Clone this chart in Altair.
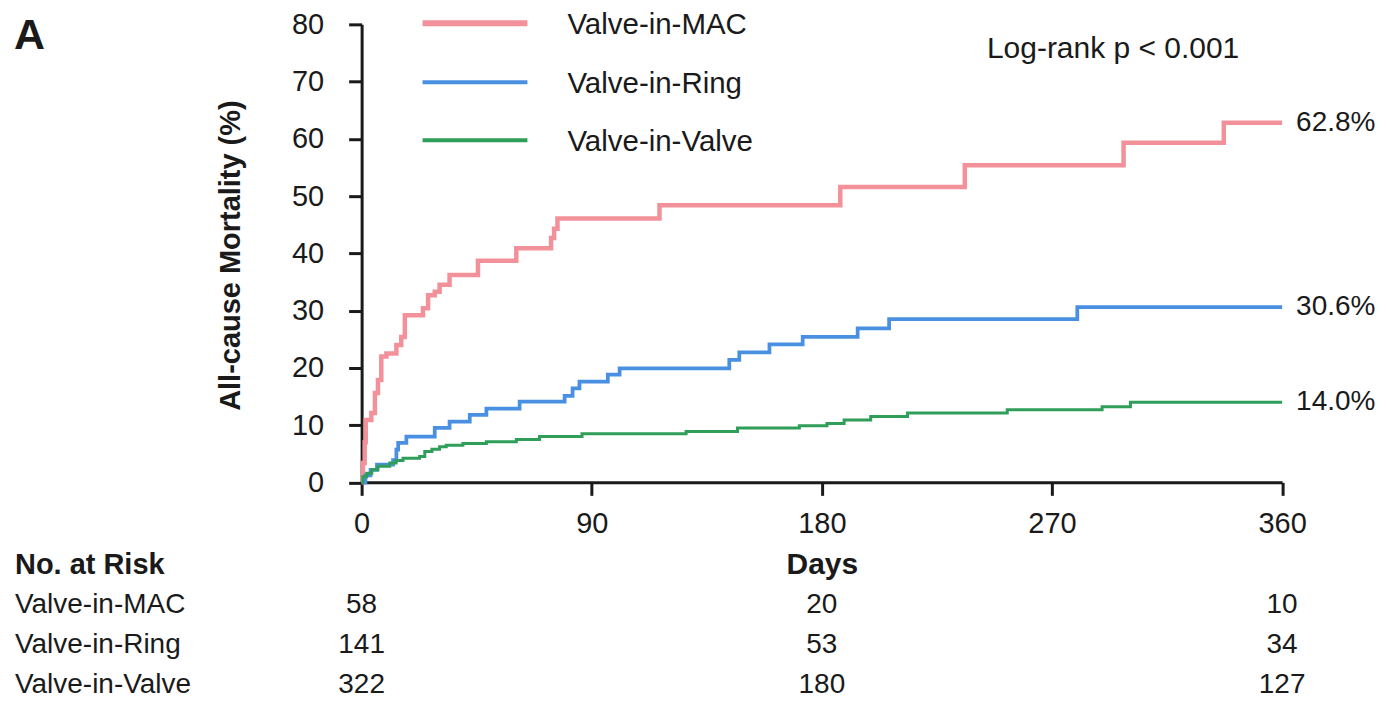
import altair as alt
import pandas as pd

# ---------------- data ----------------
groups = ["Valve-in-MAC", "Valve-in-Ring", "Valve-in-Valve"]
colors = ["#F2919A", "#4A90E2", "#2E9E58"]

mac_days = [0, 0.5, 1.2, 1.6, 3.8, 5.2, 6.4, 7.7, 9.7, 13.6, 15.5, 16.9, 24.0, 26.0,
            28.6, 30.5, 34.4, 45.5, 60.5, 74.1, 75.3, 76.6, 116.5, 187.2, 235.9,
            298.0, 337.2, 360]
mac_pct = [0, 3.4, 7.0, 10.9, 12.1, 15.6, 17.9, 22.0, 22.5, 24.0, 25.4, 29.2, 30.4, 32.7,
           33.3, 34.5, 36.2, 38.7, 40.9, 42.7, 44.3, 46.1, 48.4, 51.6, 55.4,
           59.3, 62.8, 62.8]

ring_days = [0, 1.5, 3.5, 6.0, 12.3, 13.6, 14.3, 17.5, 28.6, 34.4, 42.3, 48.8, 61.8,
             79.4, 82.5, 85.2, 96.3, 100.9, 143.8, 147.7, 159.5, 172.5, 194.0, 206.3,
             279.9, 360]
ring_pct = [0, 1.2, 2.2, 3.1, 3.9, 5.7, 6.9, 8.0, 9.5, 10.6, 11.8, 12.9, 14.1,
            15.1, 16.4, 17.6, 18.8, 19.9, 21.4, 22.7, 24.1, 25.4, 26.9, 28.5,
            30.6, 30.6]

valve_days = [0, 0.5, 2.0, 4.0, 6.4, 11.0, 13.5, 16.2, 22.7, 24.7, 27.5, 30.5, 33.1,
              39.6, 48.8, 60.5, 69.6, 86.2, 126.9, 147.0, 171.2, 182.0, 188.7, 199.1,
              213.5, 252.5, 289.6, 300.7, 360]
valve_pct = [0, 1.0, 1.6, 2.2, 2.8, 3.4, 3.8, 4.2, 4.5, 5.4, 5.8, 6.2, 6.5,
             6.8, 7.1, 7.5, 8.0, 8.5, 8.9, 9.5, 9.9, 10.3, 10.9, 11.5,
             12.1, 12.7, 13.2, 14.0, 14.0]

final_values = [62.8, 30.6, 14.0]
final_labels = ["62.8%", "30.6%", "14.0%"]

risk_days = [0, 180, 360]
risk_mac = [58, 20, 10]
risk_ring = [141, 53, 34]
risk_valve = [322, 180, 127]

x_ticks = [0, 90, 180, 270, 360]
y_ticks = [0, 10, 20, 30, 40, 50, 60, 70, 80]

# ---------------- tables ----------------
rows = []
for g, ds, ps in zip(groups, [mac_days, ring_days, valve_days], [mac_pct, ring_pct, valve_pct]):
    for i, (d, p) in enumerate(zip(ds, ps)):
        rows.append({"group": g, "day": d, "pct": p, "order": i})
curves = pd.DataFrame(rows)

finals = pd.DataFrame({"group": groups, "day": [360] * 3, "pct": final_values, "label": final_labels})

FONT = "Liberation Sans"
INK = "#1a1a1a"
FS = 29

x_enc = alt.X("day:Q", scale=alt.Scale(domain=[0, 360], nice=False),
              axis=alt.Axis(values=x_ticks, title="Days", format="d", labelFlush=False))
y_enc = alt.Y("pct:Q", scale=alt.Scale(domain=[0, 80], nice=False),
              axis=alt.Axis(values=y_ticks, title="All-cause Mortality (%)", format="d", labelFlush=False))
color_enc = alt.Color("group:N", scale=alt.Scale(domain=groups, range=colors), legend=None)

lines = alt.Chart(curves).mark_line(interpolate="step-after", clip=False).encode(
    x=x_enc,
    y=y_enc,
    color=color_enc,
    strokeWidth=alt.StrokeWidth("group:N", scale=alt.Scale(domain=groups, range=[4.5, 3, 3]), legend=None),
    order="order:Q",
    detail="group:N",
)

end_labels = alt.Chart(finals).mark_text(align="left", baseline="middle", dx=14,
                                         fontSize=28, font=FONT, color=INK).encode(
    x="day:Q", y="pct:Q", text="label:N"
)

layers = [lines, end_labels]

# legend (drawn manually)
leg_y = [-1, 58, 116]
leg_w = [6, 4, 4]
for g, c, yy, w in zip(groups, colors, leg_y, leg_w):
    one = pd.DataFrame({"t": [g]})
    layers.append(alt.Chart(one).mark_rule(color=c, strokeWidth=w).encode(
        x=alt.value(61), x2=alt.value(166), y=alt.value(yy)))
    layers.append(alt.Chart(one).mark_text(align="left", baseline="middle", fontSize=FS + 0.5,
                                           font=FONT, color=INK).encode(
        x=alt.value(206), y=alt.value(yy + 2), text="t:N"))

# annotations
layers.append(alt.Chart(pd.DataFrame({"t": ["Log-rank p < 0.001"]})).mark_text(
    align="left", baseline="middle", fontSize=FS + 1, font=FONT, color=INK).encode(
    x=alt.value(626), y=alt.value(25), text="t:N"))
layers.append(alt.Chart(pd.DataFrame({"t": ["A"]})).mark_text(
    align="left", baseline="alphabetic", fontSize=43, font=FONT, fontWeight="bold", color=INK).encode(
    x=alt.value(-348), y=alt.value(25), text="t:N"))

# number-at-risk table
layers.append(alt.Chart(pd.DataFrame({"t": ["No. at Risk"]})).mark_text(
    align="left", baseline="middle", fontSize=FS, font=FONT, fontWeight="bold", color=INK).encode(
    x=alt.value(-347), y=alt.value(541), text="t:N"))
row_y = [581, 621, 661]
for g, counts, yy in zip(groups, [risk_mac, risk_ring, risk_valve], row_y):
    layers.append(alt.Chart(pd.DataFrame({"t": [g]})).mark_text(
        align="left", baseline="middle", fontSize=FS - 1, font=FONT, color=INK).encode(
        x=alt.value(-347), y=alt.value(yy), text="t:N"))
    rd = pd.DataFrame({"day": risk_days, "n": counts})
    layers.append(alt.Chart(rd).mark_text(
        align="center", baseline="middle", fontSize=FS - 1, font=FONT, color=INK).encode(
        x=alt.X("day:Q"), y=alt.value(yy), text="n:Q"))

chart = alt.layer(*layers).properties(
    width=921.5,
    height=458.5,
    autosize=alt.AutoSizeParams(type="none"),
    padding={"left": 354, "top": 16, "right": 100, "bottom": 222},
    background="white",
).configure_view(stroke=None).configure_axis(
    domainColor=INK, domainWidth=3, tickColor=INK, tickWidth=3, tickSize=13,
    labelFont=FONT, labelFontSize=FS, labelColor=INK,
    titleFont=FONT, titleFontWeight="bold", titleColor=INK, grid=False,
).configure_axisX(
    labelPadding=14, titleFontSize=30, titleX=460.75, titleY=82, titleBaseline="middle",
).configure_axisY(
    labelPadding=25, titleFontSize=29, titleAngle=270, titleX=-131, titleY=231,
    titleAlign="center", titleBaseline="middle",
)

chart.save("out.html", embed_options={"renderer": "svg", "actions": False})
